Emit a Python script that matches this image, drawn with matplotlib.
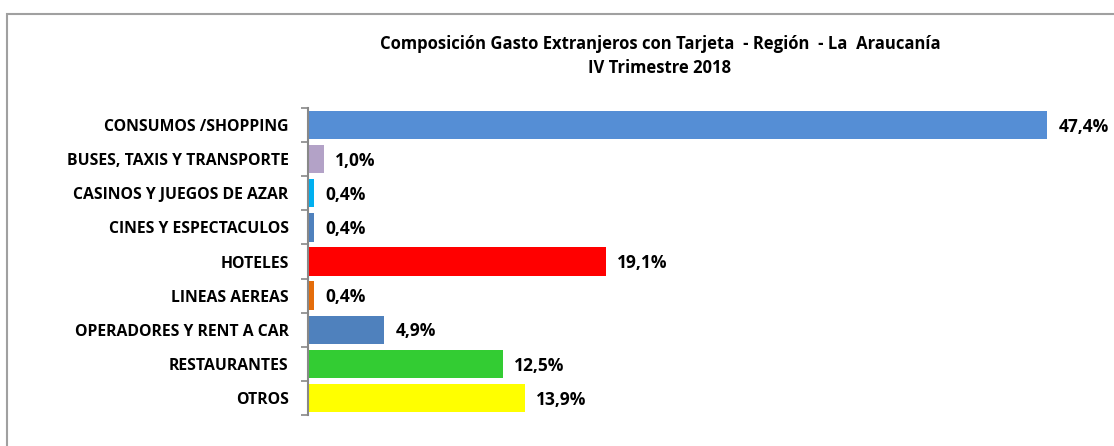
#!/usr/bin/env python3
"""Composición gasto extranjeros con tarjeta - La Araucanía, IV trimestre 2018."""

import matplotlib
matplotlib.use('Agg')
import matplotlib.pyplot as plt
from matplotlib.patches import Rectangle

matplotlib.rcParams['font.family'] = ['Open Sans', 'DejaVu Sans']
matplotlib.rcParams['font.weight'] = 'bold'

categories = [
    'CONSUMOS /SHOPPING',
    'BUSES, TAXIS Y TRANSPORTE',
    'CASINOS Y JUEGOS DE AZAR',
    'CINES Y ESPECTACULOS',
    'HOTELES',
    'LINEAS AEREAS',
    'OPERADORES Y RENT A CAR',
    'RESTAURANTES',
    'OTROS',
]
shares = [47.4, 1.0, 0.4, 0.4, 19.1, 0.4, 4.9, 12.5, 13.9]
value_labels = ['47,4%', '1,0%', '0,4%', '0,4%', '19,1%', '0,4%', '4,9%', '12,5%', '13,9%']
colors = ['#558ED5', '#B3A2C7', '#00B0F0', '#4F81BD', '#FF0000',
          '#E46C0A', '#4F81BD', '#33CC33', '#FFFF00']

W, H = 1114, 446
fig = plt.figure(figsize=(W / 100, H / 100), dpi=100)

# outer chart frame (only top and left edges visible in the crop)
fig.patches.append(Rectangle((7 / W, -0.1), 1.2, 1 - 14 / H + 0.1,
                             transform=fig.transFigure, fill=False,
                             edgecolor='#A0A0A0', linewidth=1.5))

left, right = 308 / W, 1088 / W
top, bottom = 1 - 108 / H, 1 - 415 / H
ax = fig.add_axes([left, bottom, right - left, top - bottom])

y = list(range(len(categories)))
ax.barh(y, shares, height=0.83, color=colors, edgecolor='none')
for yi, v, lab in zip(y, shares, value_labels):
    ax.text(v + 0.7, yi + 0.05, lab, va='center', ha='left', fontsize=12.5, fontweight='bold')

ax.set_xlim(0, 50)
ax.set_ylim(len(categories) - 0.5, -0.5)
ax.set_yticks(y)
ax.set_yticklabels(categories, fontsize=11.3, fontweight='bold')
ax.set_yticks([i - 0.5 for i in range(len(categories) + 1)], minor=True)
ax.tick_params(axis='y', which='major', length=0, pad=14)
ax.tick_params(axis='y', which='minor', length=5, color='#888888', width=1.2)
ax.set_xticks([])
for s in ['top', 'right', 'bottom']:
    ax.spines[s].set_visible(False)
ax.spines['left'].set_color('#888888')
ax.spines['left'].set_linewidth(1.5)

fig.text(660 / W, 1 - 44 / H, 'Composición Gasto Extranjeros con Tarjeta  - Región  - La  Araucanía',
         ha='center', va='center', fontsize=12, fontweight='bold')
fig.text(660 / W, 1 - 68 / H, 'IV Trimestre 2018',
         ha='center', va='center', fontsize=12, fontweight='bold')

fig.savefig('out.png', dpi=100)
